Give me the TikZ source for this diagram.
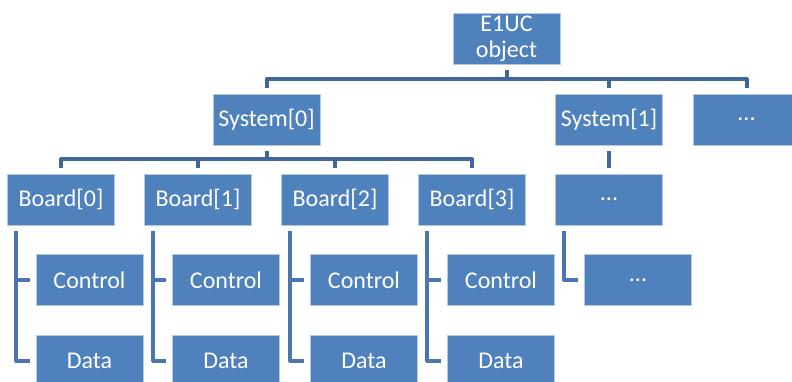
\documentclass[tikz,border=0pt]{standalone}
\usepackage{fontspec}
\setmainfont{Carlito}

\definecolor{boxblue}{HTML}{4F81BD}
\definecolor{boxedge}{HTML}{B4C8E2}
\definecolor{topblue}{HTML}{41679A}
\definecolor{subblue}{HTML}{4A75AE}

\tikzset{
  unit/.style={draw=boxedge, line width=0.8pt, fill=boxblue, text=white,
    minimum width=107pt, minimum height=51pt, inner sep=0pt, align=center,
    font=\fontsize{24}{26}\selectfont},
  topline/.style={draw=topblue, line width=4pt, line join=round,
    shorten <=6pt, shorten >=6pt},
  subline/.style={draw=subblue, line width=4pt, line join=round}
}

\begin{document}
\begin{tikzpicture}[x=1pt,y=-1pt]
\useasboundingbox (0,0) rectangle (792,381);
\node[unit] (root) at (506.5,38.5) {E1UC\\object};
\node[unit] (sys0) at (266.5,119.5) {System[0]};
\node[unit] (sys1) at (609,119.5) {System[1]};
\node[unit] (sysn) at (746.5,119.5) {...};
\node[unit] (b0) at (61,199.5) {Board[0]};
\node[unit] (b1) at (198,199.5) {Board[1]};
\node[unit] (b2) at (335,199.5) {Board[2]};
\node[unit] (b3) at (472,199.5) {Board[3]};
\node[unit] (bn) at (609,199.5) {...};
\node[unit] (c0) at (89.5,280) {Control};
\node[unit] (c1) at (226,280) {Control};
\node[unit] (c2) at (364,280) {Control};
\node[unit] (c3) at (501,280) {Control};
\node[unit] (cn) at (638,280) {...};
\node[unit] (d0) at (89.5,360.5) {Data};
\node[unit] (d1) at (226,360.5) {Data};
\node[unit] (d2) at (364,360.5) {Data};
\node[unit] (d3) at (501,360.5) {Data};
% top level
\draw[topline] (root.south) -- ++(0,15) -| (sys0.north);
\draw[topline] (root.south) -- ++(0,15) -| (sys1.north);
\draw[topline] (root.south) -- ++(0,15) -| (sysn.north);
% systems to boards
\draw[topline] (sys0.south) -- ++(0,14) -| (b0.north);
\draw[topline] (sys0.south) -- ++(0,14) -| (b1.north);
\draw[topline] (sys0.south) -- ++(0,14) -| (b2.north);
\draw[topline] (sys0.south) -- ++(0,14) -| (b3.north);
\draw[topline] (sys1.south) -- (bn.north);
% boards to control and data
\draw[subline, shorten <=6pt, shorten >=6pt] ([xshift=9pt]b0.south west) |- (d0.west);
\draw[subline, shorten >=6pt] ([xshift=9pt]b0.south west |- c0.west) -- (c0.west);
\draw[subline, shorten <=6pt, shorten >=6pt] ([xshift=9pt]b1.south west) |- (d1.west);
\draw[subline, shorten >=6pt] ([xshift=9pt]b1.south west |- c1.west) -- (c1.west);
\draw[subline, shorten <=6pt, shorten >=6pt] ([xshift=9pt]b2.south west) |- (d2.west);
\draw[subline, shorten >=6pt] ([xshift=9pt]b2.south west |- c2.west) -- (c2.west);
\draw[subline, shorten <=6pt, shorten >=6pt] ([xshift=9pt]b3.south west) |- (d3.west);
\draw[subline, shorten >=6pt] ([xshift=9pt]b3.south west |- c3.west) -- (c3.west);
\draw[subline, shorten <=6pt, shorten >=6pt] ([xshift=9pt]bn.south west) |- (cn.west);
\end{tikzpicture}
\end{document}
